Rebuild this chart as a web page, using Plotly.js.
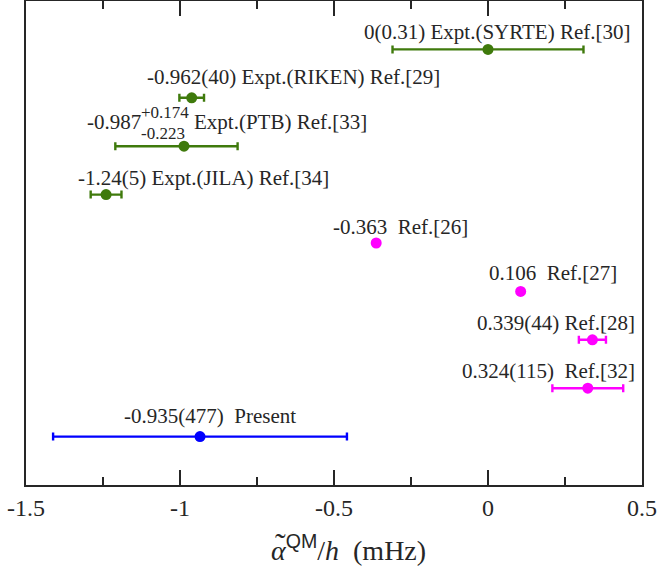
<!DOCTYPE html>
<html>
<head>
<meta charset="utf-8">
<script src="https://cdn.plot.ly/plotly-3.0.1.min.js"></script>
<style>body{margin:0;padding:0;background:#fff}</style>
</head>
<body>
<div id="chart" style="width:657px;height:567px"></div>
<script>
// ---- data (top = first) ----
const exptNames = ['SYRTE', 'RIKEN', 'PTB', 'JILA'];
const exptValues = [0, -0.962, -0.987, -1.24];
const exptErrPlus = [0.31, 0.040, 0.174, 0.05];
const exptErrMinus = [0.31, 0.040, 0.223, 0.05];
const exptLabels = ['0(0.31) Expt.(SYRTE) Ref.[30]', '-0.962(40) Expt.(RIKEN) Ref.[29]', '-0.987', '-1.24(5) Expt.(JILA) Ref.[34]'];

const theoNames = ['Ref26', 'Ref27', 'Ref28', 'Ref32'];
const theoValues = [-0.363, 0.106, 0.339, 0.324];
const theoErr = [NaN, NaN, 0.044, 0.115];
const theoLabels = ['-0.363  Ref.[26]', '0.106  Ref.[27]', '0.339(44) Ref.[28]', '0.324(115)  Ref.[32]'];

const presentNames = ['Present'];
const presentValues = [-0.935];
const presentErr = [0.477];
const presentLabels = ['-0.935(477)  Present'];

const ptbSup = '+0.174';
const ptbSub = '-0.223';
const ptbRest = 'Expt.(PTB) Ref.[33]';

const categoryOrder = ['Present', 'Ref32', 'Ref28', 'Ref27', 'Ref26', 'JILA', 'PTB', 'RIKEN', 'SYRTE'];
const tickVals = [-1.5, -1, -0.5, 0, 0.5];
const tickText = ['-1.5', '-1', '-0.5', '0', '0.5'];
const xTitle = '<i>α</i><sup><span style="font-family:\'Liberation Sans\', Arial">QM</span></sup>/<i>h</i>  (mHz)';

// ---- styles ----
const GREEN = '#3f7a0c', MAG = '#ff00ff', BLUE = '#0000ff', INK = '#262626';
const SERIF = "'Liberation Serif', 'Times New Roman', Times, serif";

function tr(names, vals, plus, minus, color) {
  return {
    type: 'scatter', mode: 'markers', x: vals, y: names,
    marker: {color: color, size: 11},
    error_x: {type: 'data', symmetric: false, array: plus, arrayminus: minus,
              color: color, thickness: 2.4, width: 4},
    hoverinfo: 'skip', showlegend: false
  };
}

const data = [
  tr(exptNames, exptValues, exptErrPlus, exptErrMinus, GREEN),
  tr(theoNames, theoValues, theoErr, theoErr, MAG),
  tr(presentNames, presentValues, presentErr, presentErr, BLUE)
];

// label placement (pixel offsets from the point: left edge, vertical shift)
const exptShift = [[-125, 17], [-46, 21], [-98, 24], [-29, 17]];
const theoShift = [[-44, 16], [-33, 18], [-116, 17], [-127, 17]];
const presentShift = [[-77, 21]];

const annotations = [];
function addLabels(names, vals, labels, shifts, size) {
  names.forEach((n, i) => {
    annotations.push({
      xref: 'x', yref: 'y', x: vals[i], y: n, text: labels[i], showarrow: false,
      xanchor: 'left', yanchor: 'middle', xshift: shifts[i][0], yshift: shifts[i][1],
      font: {family: SERIF, size: size || 21, color: INK}, borderpad: 0
    });
  });
}
addLabels(exptNames, exptValues, exptLabels, exptShift);
addLabels(theoNames, theoValues, theoLabels, theoShift);
addLabels(presentNames, presentValues, presentLabels, presentShift);
// PTB asymmetric error parts
const ptbI = exptNames.indexOf('PTB');
addLabels(['PTB'], [exptValues[ptbI]], [ptbSup], [[-44, 34]], 17);
addLabels(['PTB'], [exptValues[ptbI]], [ptbSub], [[-44, 13]], 17);
addLabels(['PTB'], [exptValues[ptbI]], [ptbRest], [[9, 24]]);

// x-axis title (drawn as annotation so it can sit where the reference has it)
annotations.push({
  xref: 'paper', yref: 'paper', x: 0, y: 0, xanchor: 'left', yanchor: 'middle',
  xshift: 244, yshift: -63, text: xTitle, showarrow: false, borderpad: 0,
  font: {family: SERIF, size: 28, color: INK}
});
// tilde accent over alpha
annotations.push({
  xref: 'paper', yref: 'paper', x: 0, y: 0, xanchor: 'center', yanchor: 'middle',
  xshift: 254, yshift: -59, text: '˜', showarrow: false, borderpad: 0,
  font: {family: SERIF, size: 32, color: INK}
});

const layout = {
  width: 657, height: 567,
  margin: {l: 26, r: 15, t: 1, b: 82},
  paper_bgcolor: '#fff', plot_bgcolor: '#fff',
  font: {family: SERIF, color: INK},
  xaxis: {
    range: [-1.5, 0.5], tickvals: tickVals, ticktext: tickText,
    ticks: 'inside', ticklen: 15, tickwidth: 2, tickcolor: INK,
    minor: {dtick: 0.25, ticks: 'inside', ticklen: 8, tickwidth: 2, tickcolor: INK},
    showline: true, linewidth: 2, linecolor: INK, mirror: 'ticks',
    showgrid: false, zeroline: false,
    tickfont: {family: SERIF, size: 24, color: INK}
  },
  yaxis: {
    type: 'category', categoryorder: 'array', categoryarray: categoryOrder,
    range: [-1, 9], showticklabels: false, ticks: '',
    showline: true, linewidth: 2, linecolor: INK, mirror: true,
    showgrid: false, zeroline: false
  },
  annotations: annotations
};

Plotly.newPlot('chart', data, layout, {displayModeBar: false, staticPlot: true});
</script>
</body>
</html>
